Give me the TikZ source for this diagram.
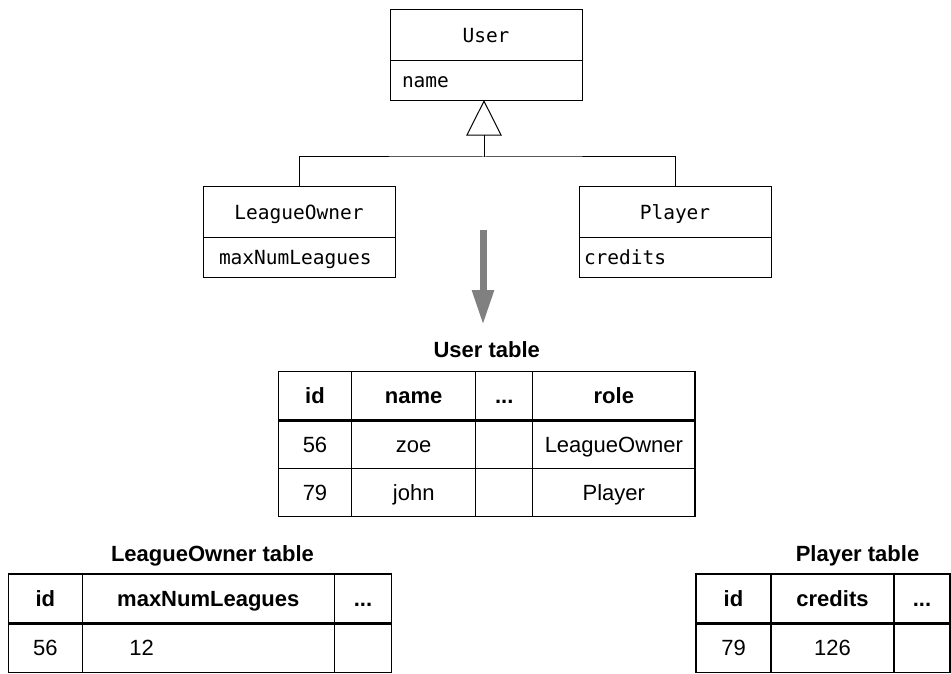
\documentclass[tikz,border=0pt]{standalone}
\usepackage{fontspec}
\newfontfamily\tabfont{Liberation Sans}
\newfontfamily\umlfont{DejaVu Sans Mono}
\usetikzlibrary{positioning,arrows.meta}

\begin{document}
\begin{tikzpicture}[
    x=1pt, y=-1pt,
    node distance=0pt,
    umlhead/.style={
        draw,
        line width=1pt,
        outer sep=0pt,
        inner sep=0pt,
        minimum width=192pt,
        minimum height=51pt,
        text height=14pt,
        text depth=0pt,
        font={\umlfont\fontsize{19.5}{22}\selectfont}
    },
    umlattr/.style={umlhead, minimum height=39.5pt, align=left},
    cell/.style={
        draw,
        line width=1.1pt,
        outer sep=0pt,
        inner sep=0pt,
        minimum height=48.4pt,
        text height=15.7pt,
        text depth=0pt,
        font={\tabfont\fontsize{22}{26}\selectfont}
    },
    headcell/.style={cell, font={\tabfont\bfseries\fontsize{22}{26}\selectfont}},
    title/.style={inner sep=0pt, anchor=base, font={\tabfont\bfseries\fontsize{22}{26}\selectfont}},
    inherit/.style={-{Triangle[open, length=35.5pt, width=35.6pt]}, line width=1pt},
    assoc/.style={line width=1pt},
    maparrow/.style={draw=black!50, line width=7pt, -{Triangle[length=35pt, width=20.5pt]}},
    headrule/.style={line width=2.8pt},
    % column widths
    uc1/.style={minimum width=73.4pt},
    uc2/.style={minimum width=124pt},
    uc3/.style={minimum width=57pt},
    uc4/.style={minimum width=162.3pt},
    oc1/.style={minimum width=74pt, minimum height=49.2pt},
    oc2/.style={minimum width=252pt, minimum height=49.2pt},
    oc3/.style={minimum width=57.4pt, minimum height=49.2pt},
    pc1/.style={minimum width=75pt, minimum height=49.2pt},
    pc2/.style={minimum width=123pt, minimum height=49.2pt},
    pc3/.style={minimum width=56pt, minimum height=49.2pt}
]
\useasboundingbox (0,0) rectangle (951,674);

% class diagram
\node[umlhead] (user) at (486,35.1) {User};
\node[umlattr, text width=168pt, inner xsep=12pt, below=of user] (user-attr) {name};

\node[umlhead] (owner) at (299,212.2) {LeagueOwner};
\node[umlattr, text width=160pt, inner xsep=16pt, below=of owner] (owner-attr) {maxNumLeagues};

\node[umlhead] (player) at (675,212.2) {Player};
\node[umlattr, text width=182pt, inner xsep=5pt, below=of player] (player-attr) {credits};

\coordinate (join) at (484,157);
\draw[assoc] (owner.north) |- (join) -| (player.north);
\draw[inherit] (join) -- (join |- user-attr.south);

% mapping arrow
\coordinate (mapstart) at (483,230);
\coordinate (mapend) at (483,325);
\draw[maparrow] (mapstart) -- (mapend);

% User table
\node[title] (u-title) at (486.7,357.3) {User table};
\node[headcell, uc1, anchor=north west] (u-id) at (278.3,371.7) {id};
\node[headcell, uc2, right=of u-id] (u-name) {name};
\node[headcell, uc3, right=of u-name] (u-more) {...};
\node[headcell, uc4, right=of u-more] (u-role) {role};

\node[cell, uc1, below=of u-id] (u-id1) {56};
\node[cell, uc2, right=of u-id1] (u-name1) {zoe};
\node[cell, uc3, right=of u-name1] (u-more1) {};
\node[cell, uc4, right=of u-more1] (u-role1) {LeagueOwner};

\node[cell, uc1, below=of u-id1] (u-id2) {79};
\node[cell, uc2, right=of u-id2] (u-name2) {john};
\node[cell, uc3, right=of u-name2] (u-more2) {};
\node[cell, uc4, right=of u-more2] (u-role2) {Player};

\draw[headrule] (u-id.south west) -- (u-role.south east);

% LeagueOwner table
\node[title] (o-title) at (212.5,561.7) {LeagueOwner table};
\node[headcell, oc1, anchor=north west] (o-id) at (8.3,574) {id};
\node[headcell, oc2, right=of o-id] (o-max) {maxNumLeagues};
\node[headcell, oc3, right=of o-max] (o-more) {...};

\node[cell, oc1, below=of o-id] (o-id1) {56};
\node[cell, oc2, text width=158pt, inner xsep=47pt, align=left, right=of o-id1] (o-max1) {12};
\node[cell, oc3, right=of o-max1] (o-more1) {};

\draw[headrule] (o-id.south west) -- (o-more.south east);

% Player table
\node[title] (p-title) at (857.5,561.7) {Player table};
\node[headcell, pc1, anchor=north west] (p-id) at (696,574) {id};
\node[headcell, pc2, right=of p-id] (p-credits) {credits};
\node[headcell, pc3, right=of p-credits] (p-more) {...};

\node[cell, pc1, below=of p-id] (p-id1) {79};
\node[cell, pc2, right=of p-id1] (p-credits1) {126};
\node[cell, pc3, right=of p-credits1] (p-more1) {};

\draw[headrule] (p-id.south west) -- (p-more.south east);

\end{tikzpicture}
\end{document}
